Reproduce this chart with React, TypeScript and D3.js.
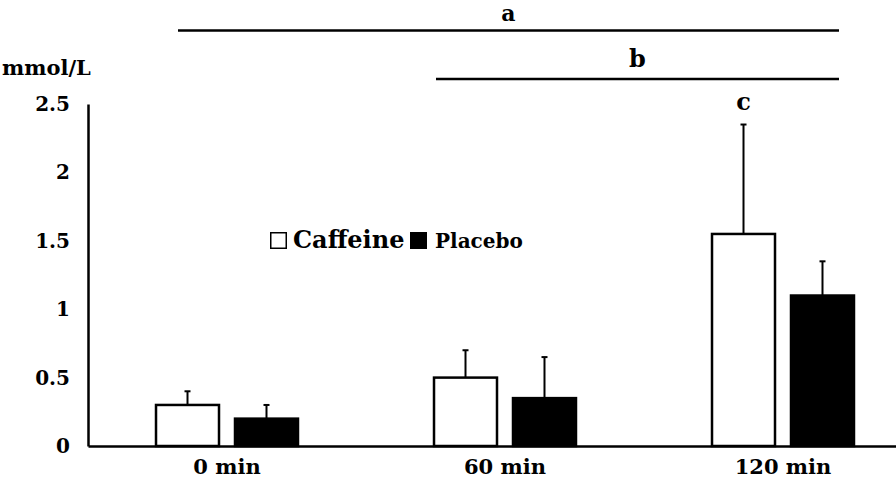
import React, { useEffect, useRef } from "react";
import * as d3 from "d3";

const categories = ["0 min", "60 min", "120 min"];
const groups = ["Caffeine", "Placebo"];
const caffeineMeans = [0.3, 0.5, 1.55];
const caffeineErrors = [0.1, 0.2, 0.8];
const placeboMeans = [0.2, 0.35, 1.1];
const placeboErrors = [0.1, 0.3, 0.25];
const yTicks = [0, 0.5, 1, 1.5, 2, 2.5];
const yLabel = "mmol/L";

// significance markers: label, first and last category spanned
const sigLabels = ["a", "b"];
const sigFrom = ["0 min", "60 min"];
const sigTo = ["120 min", "120 min"];
const barLabel = "c";
const barLabelCategory = "120 min";

const FONT = "'DejaVu Serif', serif";

const App = () => {
  const svgRef = useRef<SVGSVGElement>(null);

  useEffect(() => {
    const svg = d3.select(svgRef.current);
    svg.selectAll("*").remove();

    const width = 896;
    const height = 479;
    const margin = { top: 104, left: 88, bottom: 33 };

    svg.attr("width", width).attr("height", height);

    const x = d3.scaleBand<string>()
      .domain(categories)
      .range([margin.left, margin.left + 278 * 3])
      .padding(0);

    const xs = d3.scaleBand<string>()
      .domain(groups)
      .range([0, x.step()])
      .paddingInner(0.2025)
      .paddingOuter(0.861);

    const y = d3.scaleLinear()
      .domain([0, 2.5])
      .range([height - margin.bottom, margin.top]);

    // bars
    const series = [
      { name: "Caffeine", means: caffeineMeans, errs: caffeineErrors, fill: "#ffffff" },
      { name: "Placebo", means: placeboMeans, errs: placeboErrors, fill: "#000000" },
    ];

    series.forEach(s => {
      const rows = categories.map((c, i) => ({ c, mean: s.means[i], err: s.errs[i] }));
      const cx = (d: any) => (x(d.c) as number) + (xs(s.name) as number) + xs.bandwidth() / 2;

      svg.append("g")
        .selectAll("line.err")
        .data(rows)
        .enter()
        .append("line")
        .attr("x1", cx)
        .attr("x2", cx)
        .attr("y1", d => y(d.mean))
        .attr("y2", d => y(d.mean + d.err))
        .attr("stroke", "#000")
        .attr("stroke-width", 2);

      svg.append("g")
        .selectAll("line.cap")
        .data(rows)
        .enter()
        .append("line")
        .attr("x1", d => cx(d) - 3)
        .attr("x2", d => cx(d) + 3)
        .attr("y1", d => y(d.mean + d.err))
        .attr("y2", d => y(d.mean + d.err))
        .attr("stroke", "#000")
        .attr("stroke-width", 2);

      svg.append("g")
        .selectAll("rect")
        .data(rows)
        .enter()
        .append("rect")
        .attr("x", d => (x(d.c) as number) + (xs(s.name) as number))
        .attr("y", d => y(d.mean))
        .attr("width", xs.bandwidth())
        .attr("height", d => y(0) - y(d.mean))
        .attr("fill", s.fill)
        .attr("stroke", "#000")
        .attr("stroke-width", 2.5);
    });

    // axes
    const yAxis = svg.append("g")
      .attr("transform", `translate(${margin.left},0)`)
      .call(
        d3.axisLeft(y)
          .tickValues(yTicks)
          .tickSize(0)
          .tickPadding(18)
          .tickFormat(d => String(d))
      );
    yAxis.select(".domain").attr("stroke-width", 2.5);
    yAxis.selectAll("text")
      .attr("font-family", FONT)
      .attr("font-weight", "bold")
      .attr("font-size", 20)
      .attr("fill", "#000");

    const xAxis = svg.append("g")
      .attr("transform", `translate(0,${y(0)})`)
      .call(d3.axisBottom(x).tickSize(0).tickPadding(13));
    xAxis.select(".domain").attr("stroke-width", 2.5);
    xAxis.selectAll("text")
      .attr("font-family", FONT)
      .attr("font-weight", "bold")
      .attr("font-size", 21)
      .attr("fill", "#000");

    svg.append("text")
      .attr("x", 2)
      .attr("y", 75)
      .attr("font-family", FONT)
      .attr("font-weight", "bold")
      .attr("font-size", 21)
      .text(yLabel);

    // significance lines above the plot
    const lineY = [30.5, 79];
    const labelY = [21, 67];
    const labelSize = [22, 24];
    const startOffset = [90, 70];
    sigLabels.forEach((lab, i) => {
      const x1 = (x(sigFrom[i]) as number) + startOffset[i];
      const x2 = (x(sigTo[i]) as number) + 195;
      svg.append("line")
        .attr("x1", x1)
        .attr("x2", x2)
        .attr("y1", lineY[i])
        .attr("y2", lineY[i])
        .attr("stroke", "#000")
        .attr("stroke-width", 2.5);
      svg.append("text")
        .attr("x", (x1 + x2) / 2)
        .attr("y", labelY[i])
        .attr("text-anchor", "middle")
        .attr("font-family", FONT)
        .attr("font-weight", "bold")
        .attr("font-size", labelSize[i])
        .text(lab);
    });

    svg.append("text")
      .attr("x", (x(barLabelCategory) as number) + (xs("Caffeine") as number) + xs.bandwidth() / 2)
      .attr("y", 110)
      .attr("text-anchor", "middle")
      .attr("font-family", FONT)
      .attr("font-weight", "bold")
      .attr("font-size", 24)
      .text(barLabel);

    // legend
    const legend = svg.append("g").attr("transform", "translate(270,232)");
    legend.append("rect")
      .attr("x", 0.75).attr("y", 0.75)
      .attr("width", 15.5).attr("height", 15.5)
      .attr("fill", "#fff").attr("stroke", "#000").attr("stroke-width", 1.5);
    legend.append("text")
      .attr("x", 23).attr("y", 15.5)
      .attr("font-family", FONT).attr("font-weight", "bold").attr("font-size", 24)
      .text(groups[0]);
    legend.append("rect")
      .attr("x", 140).attr("y", 0)
      .attr("width", 17).attr("height", 17)
      .attr("fill", "#000");
    legend.append("text")
      .attr("x", 165).attr("y", 15.5)
      .attr("font-family", FONT).attr("font-weight", "bold").attr("font-size", 20)
      .text(groups[1]);
  }, []);

  return <svg ref={svgRef} style={{ position: "absolute", left: 0, top: 0 }}></svg>;
};

export default App;
